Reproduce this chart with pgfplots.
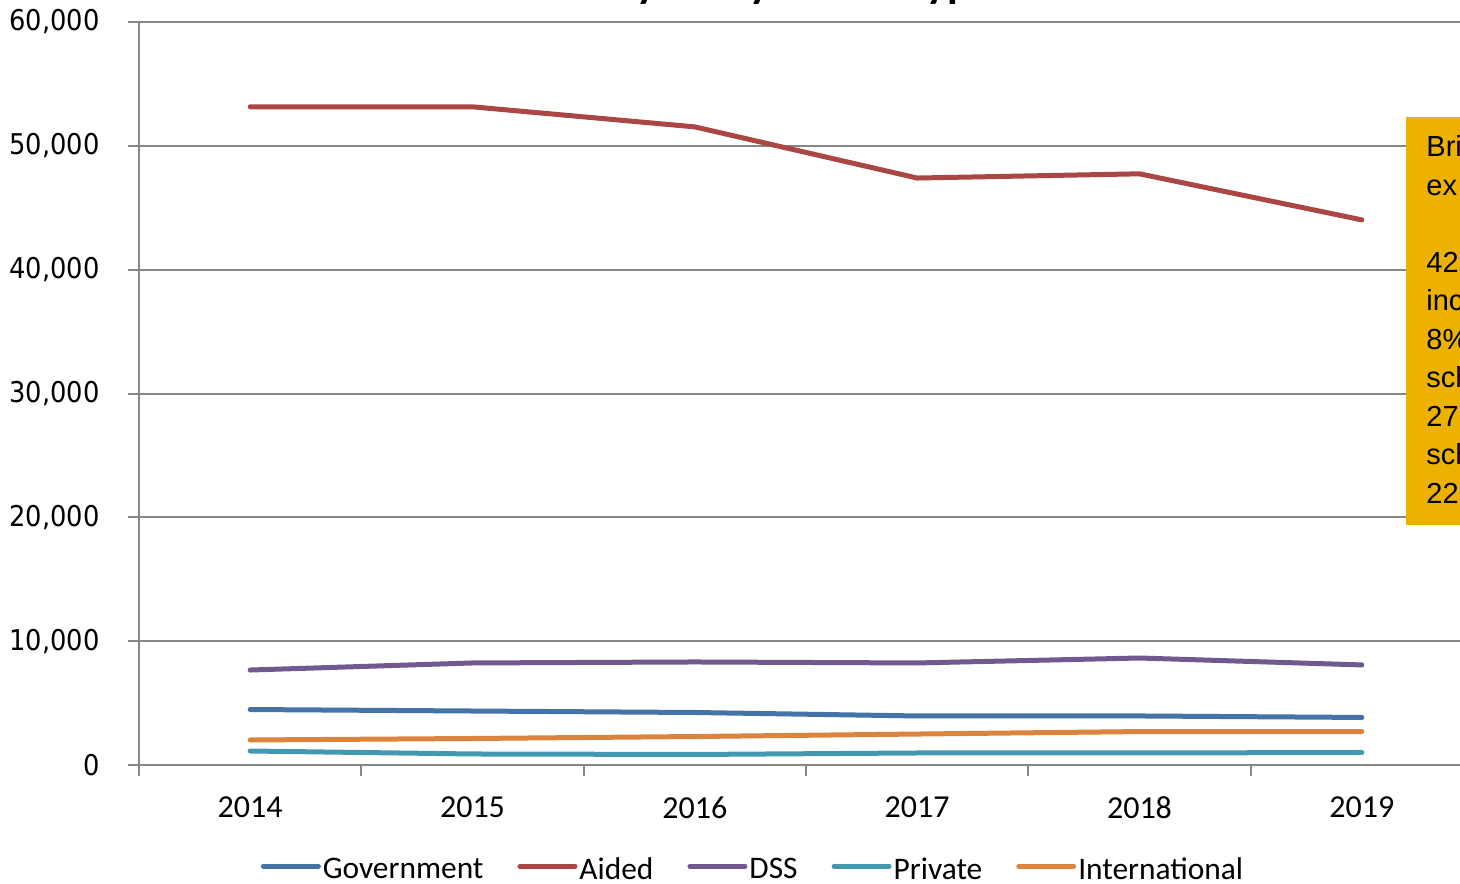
\documentclass[border=0pt]{standalone}
\usepackage{fontspec}
\setmainfont{Carlito}
\newfontfamily\ylabfont{DejaVu Sans Condensed}
\newfontfamily\arialfont{Liberation Sans}
\usepackage{pgfplots}
\pgfplotsset{compat=1.18}
\definecolor{gov}{HTML}{4572A7}
\definecolor{aided}{HTML}{AA4643}
\definecolor{dss}{HTML}{71588F}
\definecolor{priv}{HTML}{4198AF}
\definecolor{intl}{HTML}{DB843D}
\definecolor{gridgray}{RGB}{134,134,134}
\definecolor{boxgold}{RGB}{237,178,0}
\begin{document}
\begin{tikzpicture}
\useasboundingbox (-69.5pt,-59pt) rectangle (660.5pt,382.5pt);
\clip (-69.5pt,-59pt) rectangle (660.5pt,382.5pt);
\begin{axis}[
  at={(0pt,0pt)}, anchor=south west,
  scale only axis, width=667pt, height=371.5pt,
  xmin=-0.5, xmax=5.5, ymin=0, ymax=60000,
  xtick={-0.5,0.5,1.5,2.5,3.5,4.5,5.5},
  x tick label as interval,
  xticklabels={2014,2015,2016,2017,2018,2019},
  ytick={0,10000,20000,30000,40000,50000,60000},
  scaled y ticks=false,
  /pgf/number format/assume math mode=true,
  axis x line*=bottom, axis y line*=left,
  axis line style={-, draw=gridgray, line width=1pt},
  tick align=outside, xtick pos=bottom, ytick pos=left,
  major tick length=5.5pt,
  tick style={draw=gridgray, line width=1pt},
  ymajorgrids, grid style={draw=gridgray, line width=1pt},
  yticklabel style={font=\ylabfont\fontsize{14.3}{16}\selectfont, anchor=east, inner sep=0pt, xshift=-14pt},
  xticklabel style={font=\fontsize{16}{18}\selectfont, anchor=north, inner sep=0pt, yshift=-10pt},
  legend columns=-1,
  legend style={at={(0.4603,-0.121)}, anchor=north, draw=none, fill=none,
    font=\fontsize{15.7}{18}\selectfont, inner sep=0pt,
    nodes={inner sep=1pt, text depth=0pt},
    /tikz/every even column/.append style={column sep=16pt}},
  legend image code/.code={\draw[#1] (0pt,1pt) -- (27.5pt,1pt);},
  every axis plot/.append style={line width=2.5pt, line cap=round, line join=round},
]
\addplot[gov] coordinates {(0,4480) (1,4360) (2,4240) (3,3960) (4,3960) (5,3840)};
\addlegendentry{Government}
\addplot[aided] coordinates {(0,53150) (1,53150) (2,51530) (3,47400) (4,47740) (5,44020)};
\addlegendentry{Aided}
\addplot[dss] coordinates {(0,7670) (1,8240) (2,8320) (3,8240) (4,8640) (5,8080)};
\addlegendentry{DSS}
\addplot[priv] coordinates {(0,1130) (1,890) (2,850) (3,970) (4,970) (5,1010)};
\addlegendentry{Private}
\addplot[intl] coordinates {(0,2020) (1,2140) (2,2300) (3,2500) (4,2700) (5,2700)};
\addlegendentry{International}
\end{axis}
\node[anchor=base east, inner sep=0pt, font=\bfseries\fontsize{22}{26}\selectfont] at (248.5pt,383.6pt) {Number of Students each\ };
\node[anchor=base west, inner sep=0pt, font=\bfseries\fontsize{22}{26}\selectfont] at (248.5pt,383.6pt) {year by School type};
\fill[boxgold] (633.5pt,120pt) rectangle (720pt,324pt);
\foreach \t [count=\i from 0] in {Brief,ex,{},42,increase,8\%,schools,27,schools,22}
  \node[anchor=base west, inner sep=0pt, font=\arialfont\fontsize{14.5}{17}\selectfont] at (643.5pt,304pt-\i*19.25pt) {\t};
\end{tikzpicture}
\end{document}
